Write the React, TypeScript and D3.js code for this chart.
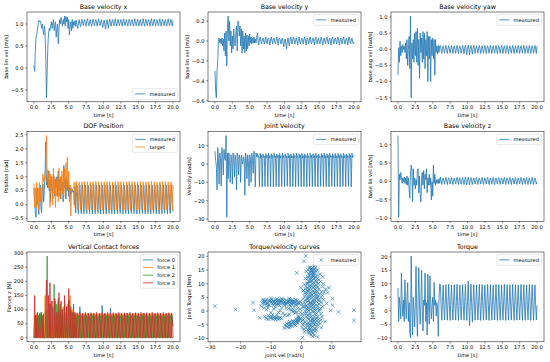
import React from 'react';
import * as d3 from 'd3';

// ---------------- DATA (sampled every 0.1 s, t = 0 .. 20 s) ----------------
const TIME_TICKS = [0, 2.5, 5, 7.5, 10, 12.5, 15, 17.5, 20];

const BASE_VEL_X = [
  0.05, -0.08, 0.40, 0.70, 0.75, 0.85, 1.00, 1.08, 1.05, 1.07,
  1.02, 0.90, 1.00, 0.85, 0.75, 0.95, 0.80, 0.20, -0.68, -0.10,
  0.50, 0.80, 0.90, 0.85, 0.95, 1.05, 0.90, 1.00, 1.10, 0.85,
  0.95, 1.05, 0.70, 0.90, 1.00, 0.55, 0.85, 1.10, 1.00, 1.15,
  1.05, 0.95, 1.10, 1.00, 1.18, 0.95, 1.17, 1.05, 1.15, 0.90,
  1.10, 0.75, 0.95, 1.05, 0.85, 1.10, 0.90, 1.05, 0.97, 1.08,
  0.95,
  1.08,0.98,0.90,1.02, 1.10,1.00,0.94,1.04, 1.11,1.02,0.96,1.05, 1.10,1.01,0.95,1.06, 1.12,1.02,0.96,1.05,
  1.10,1.01,0.95,1.04, 1.11,1.03,0.96,1.05, 1.10,1.02,0.95,1.06, 1.12,1.01,0.96,1.05, 1.10,1.00,0.92,1.03,
  1.09,0.97,0.88,1.02, 1.10,0.99,0.90,1.04, 1.11,1.01,0.95,1.05, 1.10,1.02,0.96,1.06, 1.12,1.01,0.95,1.05,
  1.11,1.02,0.96,1.04, 1.10,1.01,0.95,1.06, 1.12,1.02,0.96,1.05, 1.10,1.01,0.95,1.05, 1.11,1.03,0.96,1.06,
  1.10,1.02,0.95,1.04, 1.12,1.01,0.96,1.05, 1.11,1.02,0.95,1.06, 1.10,1.01,0.96,1.05, 1.12,1.02,0.95,1.04,
  1.11,1.01,0.96,1.06, 1.10,1.02,0.95,1.05, 1.12,1.01,0.96,1.05, 1.11,1.03,0.95,1.06, 1.10,1.02,0.96,1.04,
  1.12,1.01,0.95,1.05, 1.11,1.02,0.96,1.06, 1.10,1.01,0.95,1.05, 1.12,1.02,0.96,1.04, 1.11,1.01,0.95,1.08,
];

const BASE_VEL_Y = [
  -0.30, -0.50, -0.57, -0.30, -0.20, 0.00, 0.03, -0.02, 0.02, -0.03,
  0.03, -0.05, 0.02, -0.10, 0.08, -0.15, 0.10, -0.25, 0.15, 0.25,
  0.00, 0.20, -0.05, 0.10, -0.12, 0.05, -0.08, 0.12, 0.00, -0.05,
  0.08, 0.15, -0.10, 0.20, 0.18, 0.05, 0.15, -0.05, 0.12, -0.12,
  0.10, -0.08, 0.05, -0.12, 0.08, -0.10, 0.06, -0.08, 0.05, -0.05,
  0.07, -0.02, 0.04, -0.03, 0.03, -0.02, 0.04, -0.02, 0.02, -0.02,
  0.03,
  0.08,0.00,-0.04,0.02, 0.04,0.00,-0.03,0.01, 0.03,0.00,-0.03,0.01, 0.04,-0.01,-0.03,0.02, 0.03,0.00,-0.04,0.01,
  0.04,0.00,-0.03,0.02, 0.03,-0.01,-0.03,0.01, 0.04,0.00,-0.04,0.02, 0.03,0.00,-0.03,0.01, 0.03,-0.02,-0.06,0.00,
  0.02,-0.03,-0.08,-0.01, 0.03,-0.01,-0.05,0.01, 0.04,0.00,-0.03,0.02, 0.04,0.00,-0.03,0.01, 0.03,0.00,-0.04,0.02,
  0.04,-0.01,-0.03,0.01, 0.03,0.00,-0.03,0.02, 0.04,0.00,-0.04,0.01, 0.03,0.00,-0.03,0.02, 0.04,-0.01,-0.03,0.01,
  0.03,0.00,-0.04,0.02, 0.04,0.00,-0.03,0.01, 0.03,-0.01,-0.03,0.02, 0.04,0.00,-0.04,0.01, 0.03,0.00,-0.03,0.02,
  0.04,0.00,-0.03,0.01, 0.03,-0.01,-0.04,0.02, 0.04,0.00,-0.03,0.01, 0.03,0.00,-0.03,0.02, 0.04,0.00,-0.04,0.01,
  0.03,-0.01,-0.03,0.02, 0.04,0.00,-0.03,0.01, 0.03,0.00,-0.04,0.02, 0.04,0.00,-0.03,0.01, 0.03,-0.01,-0.03,-0.01,
];

const BASE_VEL_YAW = [
  -0.80, 0.05, -0.40, 0.25, -0.20, 0.10, -0.10, 0.15, 0.00, 0.10,
  -0.10, 0.20, -0.30, 0.30, -0.50, 0.00, 0.40, -0.60, 1.03, -1.50,
  0.20, -0.30, 0.30, -0.40, 0.50, -0.20, 0.55, -0.40, 0.65, -0.50,
  0.30, -0.90, 0.50, -0.10, 0.35, -0.40, 0.55, -0.30, 0.50, -0.60,
  0.30, -0.20, 0.55, -1.00, 0.40, -0.30, 0.40, -1.00, 0.30, -0.20,
  0.35, -0.30, 0.30, -0.80, 0.30, -0.10, 0.10, -0.15, 0.12, -0.10,
  0.10,
  0.12,0.00,-0.13,0.03, 0.11,-0.01,-0.12,0.02, 0.12,0.00,-0.13,0.03, 0.11,0.01,-0.12,0.02, 0.12,0.00,-0.13,0.03,
  0.11,-0.01,-0.12,0.02, 0.12,0.00,-0.13,0.03, 0.11,0.00,-0.12,0.02, 0.12,0.01,-0.14,0.03, 0.12,-0.01,-0.16,0.02,
  0.13,0.00,-0.17,0.03, 0.12,-0.01,-0.15,0.02, 0.12,0.00,-0.13,0.03, 0.11,0.01,-0.12,0.02, 0.12,0.00,-0.13,0.03,
  0.11,-0.01,-0.12,0.02, 0.12,0.00,-0.13,0.03, 0.11,0.01,-0.12,0.02, 0.12,0.00,-0.13,0.03, 0.11,-0.01,-0.12,0.02,
  0.12,0.00,-0.13,0.03, 0.11,0.01,-0.12,0.02, 0.12,0.00,-0.13,0.03, 0.11,-0.01,-0.12,0.02, 0.12,0.00,-0.13,0.03,
  0.11,0.01,-0.12,0.02, 0.12,0.00,-0.13,0.03, 0.11,-0.01,-0.12,0.02, 0.12,0.00,-0.13,0.03, 0.11,0.01,-0.12,0.02,
  0.12,0.00,-0.13,0.03, 0.11,-0.01,-0.12,0.02, 0.12,0.00,-0.13,0.03, 0.11,0.01,-0.12,0.02, 0.12,0.00,-0.13,0.10,
];

const DOF_POS_MEASURED = [
  0.60, 0.10, -0.30, -0.45, 0.40, 0.60, -0.10, -0.35, 0.50, 0.70,
  -0.10, -0.30, 0.50, 0.75, 0.10, 0.50, 1.20, 2.25, 0.70, 1.00,
  0.60, 1.20, 0.50, 0.90, 0.10, 1.00, 0.70, 0.20, 1.10, 0.80,
  0.30, 0.90, 0.60, 1.00, 0.30, 1.20, 0.50, 0.90, 0.20, 1.00,
  0.50, 0.80, 0.10, 1.40, 0.60, 0.90, 0.20, 1.00, 0.50, 0.90,
  0.30, 0.70, 0.20, 0.60, 0.40, 0.55, 0.45, 0.50, 0.00, 0.65,
  -0.30,
  0.30,0.68,0.05,-0.33, 0.35,0.70,0.10,-0.32, 0.34,0.71,0.08,-0.33, 0.36,0.70,0.10,-0.31, 0.35,0.69,0.09,-0.32,
  0.34,0.70,0.10,-0.33, 0.36,0.71,0.08,-0.32, 0.35,0.70,0.10,-0.31, 0.34,0.69,0.09,-0.33, 0.36,0.70,0.10,-0.32,
  0.35,0.71,0.08,-0.33, 0.34,0.70,0.10,-0.31, 0.36,0.69,0.09,-0.32, 0.35,0.70,0.10,-0.33, 0.34,0.71,0.08,-0.32,
  0.36,0.70,0.10,-0.31, 0.35,0.69,0.09,-0.33, 0.34,0.70,0.10,-0.32, 0.36,0.71,0.08,-0.33, 0.35,0.70,0.10,-0.31,
  0.34,0.69,0.09,-0.32, 0.36,0.70,0.10,-0.33, 0.35,0.71,0.08,-0.32, 0.34,0.70,0.10,-0.31, 0.36,0.69,0.09,-0.33,
  0.35,0.70,0.10,-0.32, 0.34,0.71,0.08,-0.33, 0.36,0.70,0.10,-0.31, 0.35,0.69,0.09,-0.32, 0.34,0.70,0.10,-0.33,
  0.36,0.71,0.08,-0.32, 0.35,0.70,0.10,-0.31, 0.34,0.69,0.09,-0.33, 0.36,0.70,0.10,-0.32, 0.35,0.71,0.08,-0.25,
];

const DOF_POS_TARGET = [
  0.75, -0.10, 0.60, -0.10, 0.80, 0.00, 0.60, -0.20, 0.80, 0.10,
  0.60, 0.00, 0.85, 1.10, 0.80, 1.00, 0.90, 1.50, 2.47, 0.80,
  1.25, 0.60, 1.20, -0.10, 1.10, 0.50, 1.00, 0.00, 1.30, 0.40,
  1.00, -0.10, 0.90, 0.30, 1.00, 0.10, 1.30, 0.30, 1.00, 0.20,
  1.20, 0.40, 1.10, 0.30, 1.30, 0.50, 1.50, 0.60, 1.70, 0.50,
  1.20, 0.10, 0.70, -0.40, 0.60, 0.50, 0.55, 0.60, 0.80, -0.10,
  0.80,
  0.82,0.30,-0.20,0.20, 0.81,0.32,-0.18,0.22, 0.82,0.31,-0.19,0.21, 0.83,0.30,-0.20,0.20, 0.82,0.32,-0.18,0.22,
  0.81,0.31,-0.19,0.21, 0.82,0.30,-0.20,0.20, 0.83,0.32,-0.18,0.22, 0.82,0.31,-0.19,0.21, 0.81,0.30,-0.20,0.20,
  0.82,0.32,-0.18,0.22, 0.83,0.31,-0.19,0.21, 0.82,0.30,-0.20,0.20, 0.81,0.32,-0.18,0.22, 0.82,0.31,-0.19,0.21,
  0.83,0.30,-0.20,0.20, 0.82,0.32,-0.18,0.22, 0.81,0.31,-0.19,0.21, 0.82,0.30,-0.20,0.20, 0.83,0.32,-0.18,0.22,
  0.82,0.31,-0.19,0.21, 0.81,0.30,-0.20,0.20, 0.82,0.32,-0.18,0.22, 0.83,0.31,-0.19,0.21, 0.82,0.30,-0.20,0.20,
  0.81,0.32,-0.18,0.22, 0.82,0.31,-0.19,0.21, 0.83,0.30,-0.20,0.20, 0.82,0.32,-0.18,0.22, 0.81,0.31,-0.19,0.21,
  0.82,0.30,-0.20,0.20, 0.83,0.32,-0.18,0.22, 0.82,0.31,-0.19,0.21, 0.81,0.30,-0.20,0.20, 0.82,0.32,-0.18,0.70,
];

const JOINT_VELOCITY = [
  7, 2, -1, -14, 9, 3, -11, 6, 3, -12,
  9, 4, -6, 8, 3, 2, 15.5, -29, 6, -8,
  6, 2, -10, 5, 4, -11, 6, 3, -7, 5,
  2, -14, 6, 4, -6, 5, 3, -10, 5, 2,
  0, 4, 3, -17, 6, 3, -8, 5, 2, -12,
  5, 3, -10, 6, 2, -5, 7, 3, -12.5, 6,
  4,
  5.6,3.5,4.5,-12.3, 5.8,3.2,4.6,-12.5, 5.5,3.6,4.4,-12.2, 5.7,3.4,4.7,-12.4, 5.9,3.3,4.5,-12.3,
  5.6,3.5,4.6,-12.5, 5.8,3.6,4.4,-12.2, 5.5,3.4,4.7,-12.4, 5.7,3.3,4.5,-12.3, 5.9,3.5,4.6,-12.5,
  5.6,3.6,4.4,-12.2, 5.8,3.4,4.7,-12.4, 5.5,3.3,4.5,-12.3, 5.7,3.5,4.6,-12.5, 5.9,3.6,4.4,-12.2,
  5.6,3.4,4.7,-12.4, 5.8,3.3,4.5,-12.3, 5.5,3.5,4.6,-12.5, 5.7,3.6,4.4,-12.2, 5.9,3.4,4.7,-12.4,
  5.6,3.3,4.5,-12.3, 5.8,3.5,4.6,-12.5, 5.5,3.6,4.4,-12.2, 5.7,3.4,4.7,-12.4, 5.9,3.3,4.5,-12.3,
  5.6,3.5,4.6,-12.5, 5.8,3.6,4.4,-12.2, 5.5,3.4,4.7,-12.4, 5.7,3.3,4.5,-12.3, 5.9,3.5,4.6,-12.5,
  5.6,3.6,4.4,-12.2, 5.8,3.4,4.7,-12.4, 5.5,3.3,4.5,-12.3, 5.7,3.5,4.6,-12.5, 5.9,3.6,4.4,4.8,
];

const BASE_VEL_Z = [
  1.25, -0.97, 0.20, 0.05, 0.25, 0.10, -0.05, 0.10, 0.00, 0.12,
  -0.05, 0.10, -0.08, 0.15, -0.10, 0.10, -0.20, -0.45, 0.20, 0.45,
  0.30, -0.55, 0.35, -0.10, 0.10, -0.20, 0.05, -0.10, 0.30, 0.35,
  -0.30, 0.15, -0.35, -0.55, 0.10, 0.25, -0.10, 0.30, -0.20, 0.20,
  0.05, 0.35, -0.30, 0.10, -0.10, 0.20, -0.10, 0.10, -0.50, 0.00,
  -0.40, 0.45, -0.05, 0.20, -0.10, 0.05, -0.05, 0.05, -0.05, 0.08,
  -0.05,
  0.12,0.02,-0.08,0.05, 0.10,0.01,-0.07,0.04, 0.11,0.02,-0.08,0.05, 0.10,0.00,-0.07,0.04, 0.11,0.02,-0.08,0.05,
  0.10,0.01,-0.07,0.04, 0.11,0.02,-0.08,0.05, 0.10,0.00,-0.07,0.04, 0.11,0.02,-0.08,0.05, 0.12,0.01,-0.09,0.04,
  0.12,0.02,-0.09,0.05, 0.11,0.00,-0.08,0.04, 0.10,0.02,-0.07,0.05, 0.11,0.01,-0.08,0.04, 0.10,0.02,-0.07,0.05,
  0.11,0.00,-0.08,0.04, 0.10,0.02,-0.07,0.05, 0.11,0.01,-0.08,0.04, 0.10,0.02,-0.07,0.05, 0.11,0.00,-0.08,0.04,
  0.10,0.02,-0.07,0.05, 0.11,0.01,-0.08,0.04, 0.10,0.02,-0.07,0.05, 0.11,0.00,-0.08,0.04, 0.10,0.02,-0.07,0.05,
  0.11,0.01,-0.08,0.04, 0.10,0.02,-0.07,0.05, 0.11,0.00,-0.08,0.04, 0.10,0.02,-0.07,0.05, 0.11,0.01,-0.08,0.04,
  0.10,0.02,-0.07,0.05, 0.11,0.00,-0.08,0.04, 0.10,0.02,-0.07,0.05, 0.11,0.01,-0.08,0.04, 0.10,0.02,-0.07,0.00,
];

const FORCE_0 = [
  0, 0, 80, 60, 0, 0, 75, 70, 0, 0,
  80, 65, 0, 0, 85, 0, 0, 90, 0, 0,
  100, 0, 0, 120, 80, 0, 0, 110, 0, 0,
  90, 0, 80, 0, 0, 130, 0, 0, 90, 0,
  0, 100, 0, 0, 120, 0, 0, 95, 0, 0,
  80, 135, 0, 0, 90, 0, 0, 120, 0, 80,
  0,
  0,85,70,0, 0,110,70,0, 0,85,70,0, 0,84,68,0, 0,86,70,0,
  0,85,69,0, 0,84,70,0, 0,86,68,0, 0,85,70,0, 0,115,70,0,
  0,85,69,0, 0,84,70,0, 0,105,68,0, 0,85,70,0, 0,84,69,0,
  0,86,70,0, 0,85,68,0, 0,84,70,0, 0,86,69,0, 0,85,70,0,
  0,84,68,0, 0,86,70,0, 0,85,69,0, 0,84,70,0, 0,86,68,0,
  0,85,70,0, 0,84,69,0, 0,86,70,0, 0,85,68,0, 0,84,70,0,
  0,86,69,0, 0,85,70,0, 0,84,68,0, 0,86,70,0, 0,85,70,40,
];

const FORCE_1 = [
  0, 75, 0, 0, 85, 0, 0, 80, 0, 0,
  0, 80, 0, 0, 0, 0, 150, 0, 0, 100,
  0, 0, 120, 0, 0, 130, 0, 0, 100, 0,
  0, 130, 0, 0, 110, 0, 0, 100, 0, 80,
  0, 0, 110, 0, 0, 90, 0, 0, 120, 0,
  0, 0, 150, 0, 0, 100, 0, 0, 90, 0,
  80,
  75,0,0,85, 76,0,0,84, 75,0,0,86, 74,0,0,85, 76,0,0,84,
  75,0,0,86, 74,0,0,85, 76,0,0,84, 75,0,0,86, 74,0,0,85,
  76,0,0,84, 75,0,0,86, 74,0,0,85, 76,0,0,84, 75,0,0,86,
  74,0,0,85, 76,0,0,84, 75,0,0,86, 74,0,0,85, 76,0,0,84,
  75,0,0,86, 74,0,0,85, 76,0,0,84, 75,0,0,86, 74,0,0,85,
  76,0,0,84, 75,0,0,86, 74,0,0,85, 76,0,0,84, 75,0,0,86,
  74,0,0,85, 76,0,0,84, 75,0,0,86, 74,0,0,85, 76,0,0,0,
];

const FORCE_2 = [
  0, 0, 0, 70, 0, 0, 80, 0, 0, 90,
  0, 0, 0, 80, 0, 0, 0, 0, 0, 290,
  0, 0, 0, 120, 0, 0, 0, 0, 0, 190,
  0, 0, 120, 0, 0, 140, 0, 0, 120, 0,
  0, 100, 0, 0, 130, 0, 0, 110, 0, 0,
  130, 0, 0, 100, 0, 0, 90, 0, 0, 85,
  0,
  70,0,0,78, 71,0,0,77, 70,0,0,79, 69,0,0,78, 71,0,0,77,
  70,0,0,79, 69,0,0,78, 71,0,0,77, 70,0,0,79, 69,0,0,78,
  71,0,0,77, 70,0,0,79, 69,0,0,78, 71,0,0,77, 70,0,0,79,
  69,0,0,78, 71,0,0,77, 70,0,0,79, 69,0,0,78, 71,0,0,77,
  70,0,0,79, 69,0,0,78, 71,0,0,77, 70,0,0,79, 69,0,0,78,
  71,0,0,77, 70,0,0,79, 69,0,0,78, 71,0,0,77, 70,0,0,79,
  69,0,0,78, 71,0,0,77, 70,0,0,79, 69,0,0,78, 71,0,0,0,
];

const FORCE_3 = [
  0, 150, 0, 80, 0, 90, 0, 0, 85, 0,
  0, 90, 0, 80, 0, 0, 0, 100, 205, 0,
  0, 150, 0, 195, 0, 0, 130, 0, 0, 0,
  140, 0, 0, 90, 0, 0, 160, 0, 0, 130,
  0, 100, 0, 0, 150, 0, 0, 110, 0, 0,
  175, 0, 0, 110, 0, 0, 90, 0, 0, 90,
  0,
  0,88,65,0, 0,89,66,0, 0,88,64,0, 0,90,65,0, 0,88,66,0,
  0,89,64,0, 0,88,65,0, 0,90,66,0, 0,88,64,0, 0,89,65,0,
  0,88,66,0, 0,90,64,0, 0,88,65,0, 0,89,66,0, 0,88,64,0,
  0,90,65,0, 0,88,66,0, 0,89,64,0, 0,88,65,0, 0,90,66,0,
  0,88,64,0, 0,89,65,0, 0,88,66,0, 0,90,64,0, 0,88,65,0,
  0,89,66,0, 0,88,64,0, 0,90,65,0, 0,88,66,0, 0,89,64,0,
  0,88,65,0, 0,90,66,0, 0,88,64,0, 0,89,65,0, 0,88,66,0,
];

const JOINT_TORQUE = [
  8.5, -4, 5, 2, -3, 14, 3, -2, 4, -4,
  11.5, 2, -3, 5, 10.5, -4, 3, -8, -10, 20.3,
  2, -9, 5, 1, -6, 3, 16.5, 0, -9.5, 4,
  16, 2, -5, 3, 15, 1, -7.5, 4, 2, 14,
  -4, 3, -9, 13.5, 2, -5, 13, 3, -3, 2,
  5, -4, 10.5, 2, 4, -2, 3, 1, -9.5, 4,
  10,
  9.7,2.0,-3.5,3.5, 9.6,1.8,-3.4,3.6, 9.7,2.1,-3.5,3.4, 9.8,1.9,-3.6,3.5, 9.6,2.0,-3.4,3.6,
  9.7,1.8,-3.5,3.4, 9.8,2.1,-3.6,3.5, 9.6,1.9,-3.4,3.6, 9.7,2.0,-3.5,3.4, 9.8,1.8,-3.6,3.5,
  11.0,1.5,-5.5,3.0, 9.9,1.9,-4.2,3.4, 9.7,2.0,-3.5,3.6, 9.6,2.1,-3.4,3.5, 9.8,1.8,-3.6,3.4,
  9.7,2.0,-3.5,3.5, 9.6,1.9,-3.4,3.6, 9.8,2.1,-3.6,3.4, 9.7,1.8,-3.5,3.5, 9.6,2.0,-3.4,3.6,
  9.8,1.9,-3.6,3.4, 9.7,2.1,-3.5,3.5, 9.6,1.8,-3.4,3.6, 9.8,2.0,-3.6,3.4, 9.7,1.9,-3.5,3.5,
  9.6,2.1,-3.4,3.6, 9.8,1.8,-3.6,3.4, 9.7,2.0,-3.5,3.5, 9.6,1.9,-3.4,3.6, 9.8,2.1,-3.6,3.4,
  9.7,1.8,-3.5,3.5, 9.6,2.0,-3.4,3.6, 9.8,1.9,-3.6,3.4, 9.7,2.1,-3.5,3.5, 9.6,1.8,-3.4,2.0,
];

// Torque / velocity scatter: [joint vel (rad/s), joint torque (Nm)]
const TORQUE_VEL_POINTS: [number, number][] = [
  [-28.4, 1.8], [-21.6, 0.6], [-15.9, 3.1], [-15.6, 0.3], [-13.7, -2.4], [-13.2, 1.8],
  [-0.2, 8.5], [0.9, 18.2], [1.4, 20.1], [0.3, -9.7], [3.6, -9.2], [3.2, -8.6], [5.3, -9.4],
  [8.6, 6.7], [9.1, 8.5], [10.2, 4.6], [10.2, 2.2], [12.2, -0.3], [9.6, 0.3], [6.4, -3.3],
  [17.3, 0.4], [17.3, -3.4], [8.3, 2.8], [7.8, -3.8], [7.2, 10], [8.0, 8], [6.5, -6], [4.3, -8.8],
  [-1.5, 14], [7, 12.5],
  [-12.5, 3.8], [-12, 2.5], [-11.5, 4.2], [-11, 3.1], [-10.6, 2.2], [-10.2, 3.9], [-9.8, 4.3],
  [-9.5, 2.8], [-9, 3.5], [-8.6, 4.1], [-8.2, 2.4], [-7.8, 3.3], [-7.4, 4.0], [-7, 2.9],
  [-6.6, 3.7], [-6.2, 4.2], [-5.8, 2.6], [-5.4, 3.4], [-5, 4.0], [-4.6, 3.0], [-4.2, 3.8],
  [-3.8, 2.3], [-3.4, 3.5], [-3, 4.1], [-2.6, 2.9], [-2.2, 3.6], [-1.8, 2.5], [-1.4, 3.9],
  [-1, 3.2], [-0.6, 2.7], [-12.8, 2.9], [-11.8, 3.5], [-10.8, 4.0], [-9.9, 3.4], [-8.9, 2.9],
  [-7.9, 3.9], [-6.9, 3.4], [-5.9, 3.9], [-4.9, 2.5], [-3.9, 3.2], [-2.9, 3.0], [-1.9, 4.2],
  [-11.5, 0.5], [-10, -0.5], [-9, 0.8], [-8, -1.5], [-7, 0.2], [-6, -0.8], [-5, 1.0], [-4, -1.2],
  [-3, 0.4], [-2, -0.6], [-12.2, 1.2], [-8.5, 1.5],
  [-10, -2.5], [-9.5, -2.8], [-9, -2.2], [-8.5, -3.0], [-8, -2.6], [-7.5, -2.9], [-7, -2.3],
  [-6.5, -2.7], [-9.8, -2.0], [-8.2, -2.4], [-8.8, -2.7], [-7.2, -2.6],
  [-5.6, -6.2], [-5, -5.5], [-4.5, -5.8], [-4, -5], [-3.5, -4.8], [-3, -4.2], [-2.5, -4.5],
  [-2, -3.8], [-1.5, -3.5], [-1, -3.2], [-0.5, -3.0], [-4.8, -4.6], [-3.8, -3.9], [-2.8, -3.5],
  [-1.8, -2.8], [-0.8, -2.2], [-3.2, -5.4], [-2.2, -4.9], [-1.2, -4.3],
  [-4.5, -1.5], [-3.5, 0.5], [-2.5, 1.5], [-1.5, -0.5], [-0.5, 0.8], [0.2, -1], [0.5, 1.5],
  [-1, -1.8], [-2.8, -0.2], [-3.6, 1.8],
  [1.5, -6], [1.2, -4], [1.6, -2], [1.3, 0], [1.8, 2], [1.4, 4], [1.7, 6], [1.2, 8], [1.9, 10],
  [2.5, -8.2], [2.3, -7], [2.7, -5], [2.4, -3], [2.6, -1], [2.2, 1], [2.8, 3], [2.5, 5], [2.3, 7],
  [2.7, 9], [2.4, 11], [2.6, 13], [2.2, 15], [2.9, 16],
  [3.5, -7.5], [3.3, -6], [3.7, -4], [3.4, -2], [3.6, 0], [3.2, 2], [3.8, 4], [3.5, 6], [3.3, 8],
  [3.7, 10], [3.4, 12], [3.6, 14], [3.2, 15.5],
  [4.5, -6.5], [4.3, -5], [4.7, -3], [4.4, -1], [4.6, 1], [4.2, 3], [4.8, 5], [4.5, 7], [4.3, 9],
  [4.7, 11], [4.4, 13], [4.6, 15.8],
  [5.5, -4], [5.3, -2], [5.7, 0], [5.4, 2], [5.6, 4], [5.2, 6], [5.8, 8], [5.5, 10], [5.3, 12],
  [6.5, -1], [6.3, 1], [6.7, 3], [6.4, 5], [6.6, 7],
  [2, 0.5], [3, 1.5], [4, 2.5], [5, 3.5], [2, 4.5], [3, 5.5], [4, 6.5], [5, 7.5], [2, 8.5],
  [3, 9.5], [4, 10.5], [2, -2.5], [3, -3.5], [4, -4.5], [3, -1], [4, 0], [5, -1], [3.8, 12.8],
  [4.1, 14.2], [3.1, 11], [2.1, 12], [4.9, 9], [1, -1], [0.8, 1.5], [1, 3], [0.6, -3], [1, 5.5],
  [4.2, 16.3], [3.9, 15], [3.0, 13.5], [2.8, -6.5], [3.9, -6.8], [1.9, -4.8], [5.1, -5.5],
  [1.6, -0.8], [2.1, -1.6], [2.9, -2.2], [3.6, -2.9], [4.3, -2.1], [5.0, -2.6], [5.6, -3.1],
  [1.7, 0.9], [2.4, 0.2], [3.1, 0.6], [3.9, 1.1], [4.7, 0.3], [5.3, 0.9], [6.0, 0.5],
  [1.5, 1.9], [2.6, 2.1], [3.4, 2.8], [4.1, 1.7], [4.9, 2.2], [5.8, 2.6],
  [1.8, 3.3], [2.4, 3.9], [3.0, 3.2], [3.7, 3.6], [4.4, 4.1], [5.1, 4.6], [6.1, 3.9],
  [1.9, 5.0], [2.7, 5.9], [3.3, 4.8], [4.0, 5.3], [4.7, 6.0], [5.4, 5.1],
  [1.6, 6.8], [2.2, 7.4], [3.0, 6.7], [3.8, 7.3], [4.5, 8.0], [5.2, 7.0], [6.0, 6.2],
  [1.5, 9.0], [2.5, 8.0], [3.2, 9.0], [3.9, 8.6], [4.6, 9.6], [5.4, 8.8],
  [2.0, 10.2], [2.8, 10.6], [3.5, 11.2], [4.2, 11.8], [5.0, 10.8], [5.7, 11.4],
  [2.3, 12.4], [3.0, 12.2], [3.7, 13.2], [4.5, 12.2], [5.1, 13.0],
  [2.8, 14.3], [3.4, 14.8], [4.0, 13.8], [4.8, 14.4], [2.4, 13.6],
  [3.1, 15.0], [3.7, 15.9], [4.4, 15.2], [2.6, 15.8],
  [1.9, -5.5], [2.6, -6.0], [3.1, -5.2], [3.8, -5.6], [4.6, -4.1], [5.2, -4.8], [2.2, -4.2],
  [2.9, -4.5], [3.5, -3.4], [4.1, -3.2],
  [2.4, -7.6], [3.0, -7.2], [3.7, -8.0], [4.5, -7.4], [5.0, -6.6], [2.0, -6.8],
  [6.8, -2.0], [6.2, -4.6], [7.0, 1.6], [7.3, 4.2], [6.9, 5.8], [7.5, 7.0], [7.0, 9.0],
  [6.3, 10.8], [6.1, 13.5], [5.3, 15.0],
  [0.5, -5], [0.2, 2.5], [0.6, 4.5], [1.1, 6.6], [0.7, 7.5], [1.0, 9.8], [1.3, 12], [1.6, 14.5],
  [0.4, -2], [0.8, -6.5],
  [-12.3, 3.3], [-11.3, 2.7], [-10.4, 3.5], [-9.3, 3.9], [-8.4, 3.2], [-7.6, 2.7], [-6.8, 3.9],
  [-6.0, 3.1], [-5.2, 2.9], [-4.4, 3.4], [-3.6, 4.2], [-2.8, 3.6], [-2.0, 3.1], [-1.2, 2.9],
  [-0.4, 3.5], [-11.0, 2.0], [-9.2, 2.1], [-7.2, 2.1], [-5.6, 2.0], [-3.2, 2.6], [-1.6, 2.0],
  [-12.6, 4.3], [-10.0, 4.6], [-8.0, 4.5], [-6.4, 4.6], [-4.0, 4.5],
  [-11.6, -2.6], [-11, -3.0], [-10.5, -2.2], [-12, -2.0], [-10.8, -1.6],
  [-5.3, -5.0], [-4.2, -4.3], [-3.6, -5.5], [-2.6, -3.9], [-1.6, -4.0], [-0.9, -3.7], [-0.3, -2.6],
  [-4.0, -6.0], [-2.0, -5.2], [-1.0, -2.6], [0.3, -3.5], [0.6, -4.5], [1.0, -7.5], [0.2, -6.0],
  [-2.2, 0.2], [-1.2, 1.0], [-0.3, -0.4], [-4.2, 0.9], [-5.5, -1.5], [-6.5, 1.2], [-7.5, -0.5],
  [-9.5, -1.2], [-11, 1.2],
];

// ---------------- STYLE / LAYOUT ----------------
const C0 = '#1f77b4', C1 = '#ff7f0e', C2 = '#2ca02c', C3 = '#d62728';
const FS = 5.1;     // tick / label / legend font size
const TFS = 6.3;    // title font size
const FONT = '"DejaVu Sans", sans-serif';
const COLS = [27, 208, 391];
const ROWS = [12, 131.5, 252];
const AXW = 153;
const AXH = 89.8;
const TICK = 1.8;
const LW = 0.8;

type Series = { name: string; data: number[]; color: string };
type PanelCfg = {
  title: string; ylabel: string; xlabel: string;
  series?: Series[]; points?: [number, number][];
  legend: 'ur' | 'lr';
};

const PANELS: PanelCfg[] = [
  { title: 'Base velocity x', ylabel: 'base lin vel [m/s]', xlabel: 'time [s]', legend: 'lr',
    series: [{ name: 'measured', data: BASE_VEL_X, color: C0 }] },
  { title: 'Base velocity y', ylabel: 'base lin vel [m/s]', xlabel: 'time [s]', legend: 'ur',
    series: [{ name: 'measured', data: BASE_VEL_Y, color: C0 }] },
  { title: 'Base velocity yaw', ylabel: 'base ang vel [rad/s]', xlabel: 'time [s]', legend: 'ur',
    series: [{ name: 'measured', data: BASE_VEL_YAW, color: C0 }] },
  { title: 'DOF Position', ylabel: 'Position [rad]', xlabel: 'time [s]', legend: 'ur',
    series: [{ name: 'measured', data: DOF_POS_MEASURED, color: C0 }, { name: 'target', data: DOF_POS_TARGET, color: C1 }] },
  { title: 'Joint Velocity', ylabel: 'Velocity [rad/s]', xlabel: 'time [s]', legend: 'ur',
    series: [{ name: 'measured', data: JOINT_VELOCITY, color: C0 }] },
  { title: 'Base velocity z', ylabel: 'base lin vel [m/s]', xlabel: 'time [s]', legend: 'ur',
    series: [{ name: 'measured', data: BASE_VEL_Z, color: C0 }] },
  { title: 'Vertical Contact forces', ylabel: 'Forces z [N]', xlabel: 'time [s]', legend: 'ur',
    series: [
      { name: 'force 0', data: FORCE_0, color: C0 },
      { name: 'force 1', data: FORCE_1, color: C1 },
      { name: 'force 2', data: FORCE_2, color: C2 },
      { name: 'force 3', data: FORCE_3, color: C3 },
    ] },
  { title: 'Torque/velocity curves', ylabel: 'Joint Torque [Nm]', xlabel: 'joint vel [rad/s]', legend: 'ur',
    points: TORQUE_VEL_POINTS },
  { title: 'Torque', ylabel: 'Joint Torque [Nm]', xlabel: 'time [s]', legend: 'ur',
    series: [{ name: 'measured', data: JOINT_TORQUE, color: C0 }] },
];

let ctx: CanvasRenderingContext2D | null = null;
function textW(s: string, fs = FS): number {
  if (!ctx) ctx = document.createElement('canvas').getContext('2d');
  if (!ctx) return s.length * fs * 0.6;
  ctx.font = `${fs}px "DejaVu Sans"`;
  return ctx.measureText(s).width;
}

function pad(ext: [number, number]): [number, number] {
  const r = ext[1] - ext[0];
  return [ext[0] - r * 0.05, ext[1] + r * 0.05];
}

function fmt(v: number, dec: number): string {
  const s = Math.abs(v) < 1e-9 ? (0).toFixed(dec) : v.toFixed(dec);
  return s.replace('-', '\u2212');
}

function Legend({ items, right, top, bottom, loc, marker }: {
  items: { name: string; color: string }[]; right: number; top: number; bottom: number;
  loc: 'ur' | 'lr'; marker?: boolean;
}) {
  const em = FS;
  const bp = 0.4 * em, hl = 2 * em, htp = 0.8 * em, ls = 0.5 * em, bap = 0.5 * em;
  const rowH = em * 1.0;
  const tw = d3.max(items, (d) => textW(d.name)) ?? 0;
  const w = bp * 2 + hl + htp + tw + 1;
  const h = bp * 2 + items.length * rowH + (items.length - 1) * ls + 1.5;
  const x = right - bap - w;
  const y = loc === 'ur' ? top + bap : bottom - bap - h;
  return (
    <g>
      <rect x={x} y={y} width={w} height={h} rx={1.2} ry={1.2} fill="#ffffff" fillOpacity={0.8}
        stroke="#cccccc" strokeWidth={0.45} />
      {items.map((it, i) => {
        const cy = y + bp + 0.75 + i * (rowH + ls) + rowH / 2;
        const hx = x + bp + 0.5;
        return (
          <g key={i}>
            {marker ? (
              <path d={`M${hx + hl / 2 - 1.7},${cy - 1.7}L${hx + hl / 2 + 1.7},${cy + 1.7}M${hx + hl / 2 - 1.7},${cy + 1.7}L${hx + hl / 2 + 1.7},${cy - 1.7}`}
                stroke={it.color} strokeWidth={0.7} />
            ) : (
              <line x1={hx} x2={hx + hl} y1={cy} y2={cy} stroke={it.color} strokeWidth={LW} />
            )}
            <text x={hx + hl + htp} y={cy + em * 0.36} fontSize={FS} fontFamily={FONT} fill="#000">{it.name}</text>
          </g>
        );
      })}
    </g>
  );
}

function Panel({ cfg, left, top, idx }: { cfg: PanelCfg; left: number; top: number; idx: number }) {
  const right = left + AXW;
  const bottom = top + AXH;
  const isScatter = !!cfg.points;

  let xDom: [number, number];
  let yDom: [number, number];
  if (isScatter) {
    const pts = cfg.points!;
    xDom = pad(d3.extent(pts, (d) => d[0]) as [number, number]);
    yDom = pad(d3.extent(pts, (d) => d[1]) as [number, number]);
  } else {
    xDom = pad([0, 20]);
    yDom = pad(d3.extent(cfg.series!.flatMap((s) => s.data)) as [number, number]);
  }
  const xs = d3.scaleLinear().domain(xDom).range([left, right]);
  const ys = d3.scaleLinear().domain(yDom).range([bottom, top]);

  const xTicks = isScatter ? xs.ticks(5) : TIME_TICKS;
  const xDec = isScatter ? 0 : 1;
  const yTicks = ys.ticks(5);
  const yStep = yTicks.length > 1 ? yTicks[1] - yTicks[0] : 1;
  const yDec = yStep < 1 ? 1 : 0;
  const yLabels = yTicks.map((v) => fmt(v, yDec));
  const maxYW = d3.max(yLabels, (s) => textW(s)) ?? 0;

  const clipId = `clip-${idx}`;

  const lines = !isScatter
    ? cfg.series!.map((s) => {
        const n = s.data.length;
        const gen = d3.line<number>()
          .x((_, i) => xs((i * 20) / (n - 1)))
          .y((d) => ys(d));
        return { path: gen(s.data) ?? '', color: s.color };
      })
    : [];

  const legendItems = isScatter
    ? [{ name: 'measured', color: C0 }]
    : cfg.series!.map((s) => ({ name: s.name, color: s.color }));

  const ylabelX = left - TICK - 1.8 - maxYW - 1.5 - 1.2;
  const ymid = (top + bottom) / 2;

  return (
    <g>
      <defs>
        <clipPath id={clipId}>
          <rect x={left} y={top} width={AXW} height={AXH} />
        </clipPath>
      </defs>
      <g clipPath={`url(#${clipId})`}>
        {lines.map((l, i) => (
          <path key={i} d={l.path} fill="none" stroke={l.color} strokeWidth={LW} strokeLinejoin="round" />
        ))}
        {isScatter &&
          cfg.points!.map((p, i) => {
            const cx = xs(p[0]);
            const cy = ys(p[1]);
            const r = 1.8;
            return (
              <path key={i} d={`M${cx - r},${cy - r}L${cx + r},${cy + r}M${cx - r},${cy + r}L${cx + r},${cy - r}`}
                stroke={C0} strokeWidth={0.65} fill="none" />
            );
          })}
      </g>
      <rect x={left} y={top} width={AXW} height={AXH} fill="none" stroke="#000" strokeWidth={0.5} />
      {xTicks.map((t, i) => (
        <g key={`x${i}`}>
          <line x1={xs(t)} x2={xs(t)} y1={bottom} y2={bottom + TICK} stroke="#000" strokeWidth={0.45} />
          <text x={xs(t)} y={bottom + TICK + 1.8 + FS * 0.76} fontSize={FS} fontFamily={FONT} textAnchor="middle" fill="#000">
            {fmt(t, xDec)}
          </text>
        </g>
      ))}
      {yTicks.map((t, i) => (
        <g key={`y${i}`}>
          <line x1={left - TICK} x2={left} y1={ys(t)} y2={ys(t)} stroke="#000" strokeWidth={0.45} />
          <text x={left - TICK - 1.8} y={ys(t) + FS * 0.36} fontSize={FS} fontFamily={FONT} textAnchor="end" fill="#000">
            {yLabels[i]}
          </text>
        </g>
      ))}
      <text x={(left + right) / 2} y={bottom + TICK + 1.8 + FS * 1.17 + 1.5 + FS * 0.76} fontSize={FS} fontFamily={FONT}
        textAnchor="middle" fill="#000">{cfg.xlabel}</text>
      <text transform={`translate(${ylabelX},${ymid}) rotate(-90)`} fontSize={FS} fontFamily={FONT}
        textAnchor="middle" fill="#000">{cfg.ylabel}</text>
      <text x={(left + right) / 2} y={top - 3.2} fontSize={TFS} fontFamily={FONT} textAnchor="middle" fill="#000">
        {cfg.title}
      </text>
      <Legend items={legendItems} right={right} top={top} bottom={bottom} loc={cfg.legend} marker={isScatter} />
    </g>
  );
}

export default function App() {
  return (
    <svg width={550} height={362} viewBox="0 0 550 362"
      style={{ position: 'absolute', left: 0, top: 0, background: '#ffffff', display: 'block' }}>
      <rect x={0} y={0} width={550} height={362} fill="#ffffff" />
      {PANELS.map((p, i) => (
        <Panel key={i} cfg={p} left={COLS[i % 3]} top={ROWS[Math.floor(i / 3)]} idx={i} />
      ))}
    </svg>
  );
}
